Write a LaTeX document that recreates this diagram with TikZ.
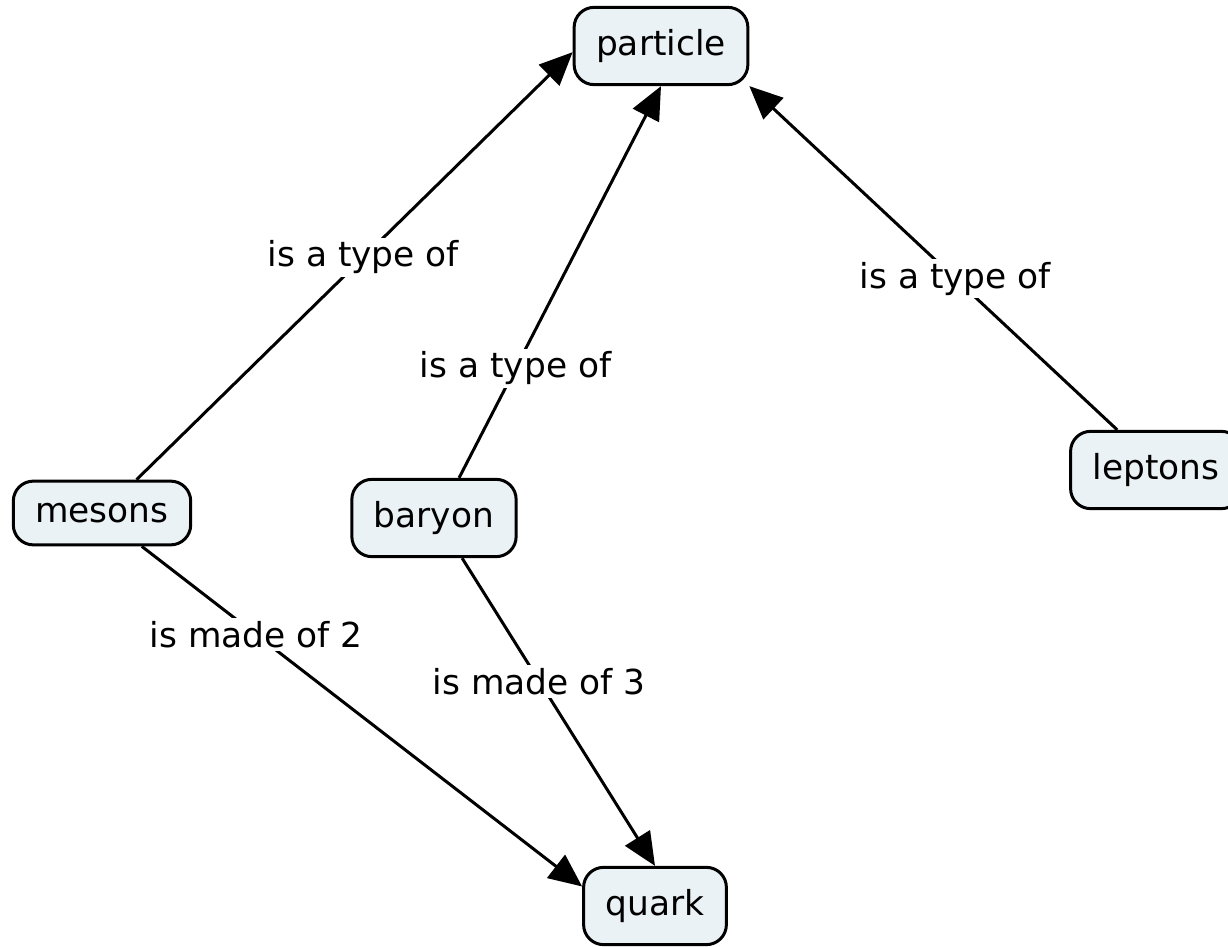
\documentclass[tikz,border=0pt]{standalone}
\usepackage{fontspec}
\setmainfont{DejaVu Sans}
\usetikzlibrary{arrows.meta}
\definecolor{conceptfill}{RGB}{235,242,245}

\begin{document}
\begin{tikzpicture}[x=0.5pt,y=-0.5pt,
  concept/.style={draw=black,line width=1.5pt,fill=conceptfill,rounded corners=10pt,
    inner sep=11pt,font=\fontsize{17.2}{20}\selectfont},
  linkarrow/.style={line width=1.5pt,-{Triangle[length=16.5pt,width=14.5pt]}},
  linklabel/.style={fill=white,inner sep=1.5pt,font=\fontsize{17.2}{20}\selectfont}]
  \useasboundingbox (0,0) rectangle (1228,947);
  % concepts
  \node[concept] (particle) at (661,46) {particle};
  \node[concept] (mesons) at (102,513) {mesons};
  \node[concept] (baryon) at (434,518) {baryon};
  \node[concept] (leptons) at (1156,470) {leptons};
  \node[concept] (quark) at (655,906) {quark};
  % links
  \draw[linkarrow] (mesons.44) -- node[linklabel,pos=0.52] {is a type of} (particle.184);
  \draw[linkarrow] (baryon.58) -- node[linklabel,pos=0.28] {is a type of} (particle.south);
  \draw[linkarrow] (leptons.134) -- node[linklabel,pos=0.44] {is a type of} (particle.south east);
  \draw[linkarrow] (mesons.320) -- node[linklabel,pos=0.26] {is made of 2} (quark.165);
  \draw[linkarrow] (baryon.305) -- node[linklabel,pos=0.40] {is made of 3} (quark.north);
\end{tikzpicture}
\end{document}
